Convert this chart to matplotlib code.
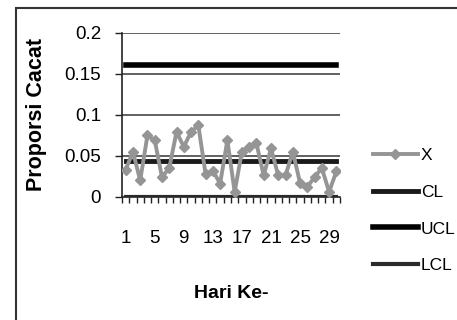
import numpy as np
import matplotlib
matplotlib.use("Agg")
import matplotlib.pyplot as plt
from matplotlib.patches import Rectangle

# daily proportion of defects (p-chart)
hari = np.arange(1, 31)
proporsi = [0.033, 0.055, 0.020, 0.075, 0.069, 0.024, 0.035, 0.079, 0.061, 0.079,
            0.087, 0.028, 0.032, 0.016, 0.069, 0.006, 0.055, 0.061, 0.065, 0.026,
            0.059, 0.026, 0.026, 0.055, 0.017, 0.012, 0.024, 0.035, 0.006, 0.031]
cl = 0.044
ucl = 0.160
lcl = 0.0

yticks = [0, 0.05, 0.1, 0.15, 0.2]
ytick_labels = ["0", "0.05", "0.1", "0.15", "0.2"]
xtick_pos = [1, 5, 9, 13, 17, 21, 25, 29]

plt.rcParams['font.family'] = ['Liberation Sans', 'DejaVu Sans']

fig = plt.figure(figsize=(4.57, 3.2), dpi=100)
ax = fig.add_axes([0.267, 0.385, 0.477, 0.513])

# horizontal gridlines
for v in yticks[1:]:
    ax.axhline(v, color='#555555', lw=1.3, zorder=1)

ax.plot(hari, proporsi, color='#959595', lw=2.8, marker='D', ms=5,
        mfc='#959595', mec='#959595', label='X', zorder=4)
ax.plot(hari, [cl] * len(hari), color='#1a1a1a', lw=3.5, label='CL', zorder=3)
ax.plot(hari, [ucl] * len(hari), color='#000000', lw=4, label='UCL', zorder=3)
ax.plot(hari, [lcl] * len(hari), color='#2a2a2a', lw=3, label='LCL', zorder=3)

ax.set_xlim(0.5, 30.5)
ax.set_ylim(0, 0.2)
ax.set_yticks(yticks)
ax.set_yticklabels(ytick_labels)
ax.set_xticks(xtick_pos)
ax.set_xticks(np.arange(0.5, 31, 1), minor=True)
ax.tick_params(axis='x', which='major', length=0, pad=24, labelsize=13.5)
ax.tick_params(axis='x', which='minor', length=4, width=1, color='#222222')
ax.tick_params(axis='y', length=5, width=1, pad=10, labelsize=13.5, color='#222222')

for s in ['top', 'right']:
    ax.spines[s].set_visible(False)
ax.spines['left'].set_linewidth(1.2)
ax.spines['bottom'].set_linewidth(1.2)
ax.spines['left'].set_color('#222222')
ax.spines['bottom'].set_color('#222222')

ax.set_ylabel('Proporsi Cacat', fontsize=15.5, fontweight='bold', va='center')
ax.yaxis.set_label_coords(-0.394, 0.5)
ax.set_xlabel('Hari Ke-', fontsize=14, fontweight='bold', va='center')
ax.xaxis.set_label_coords(0.5, -0.587)

fig.legend(loc='center left', bbox_to_anchor=(0.816, 0.342), frameon=False,
           fontsize=12.5, handlelength=2.6, handletextpad=0.15, labelspacing=1.25,
           borderpad=0, borderaxespad=0)

# outer chart frame
fig.add_artist(Rectangle((16 / 457, -0.1), 1.2, 1.075,
                         transform=fig.transFigure, fill=False,
                         edgecolor='#333333', lw=1.5))

fig.savefig('out.png', dpi=100)
